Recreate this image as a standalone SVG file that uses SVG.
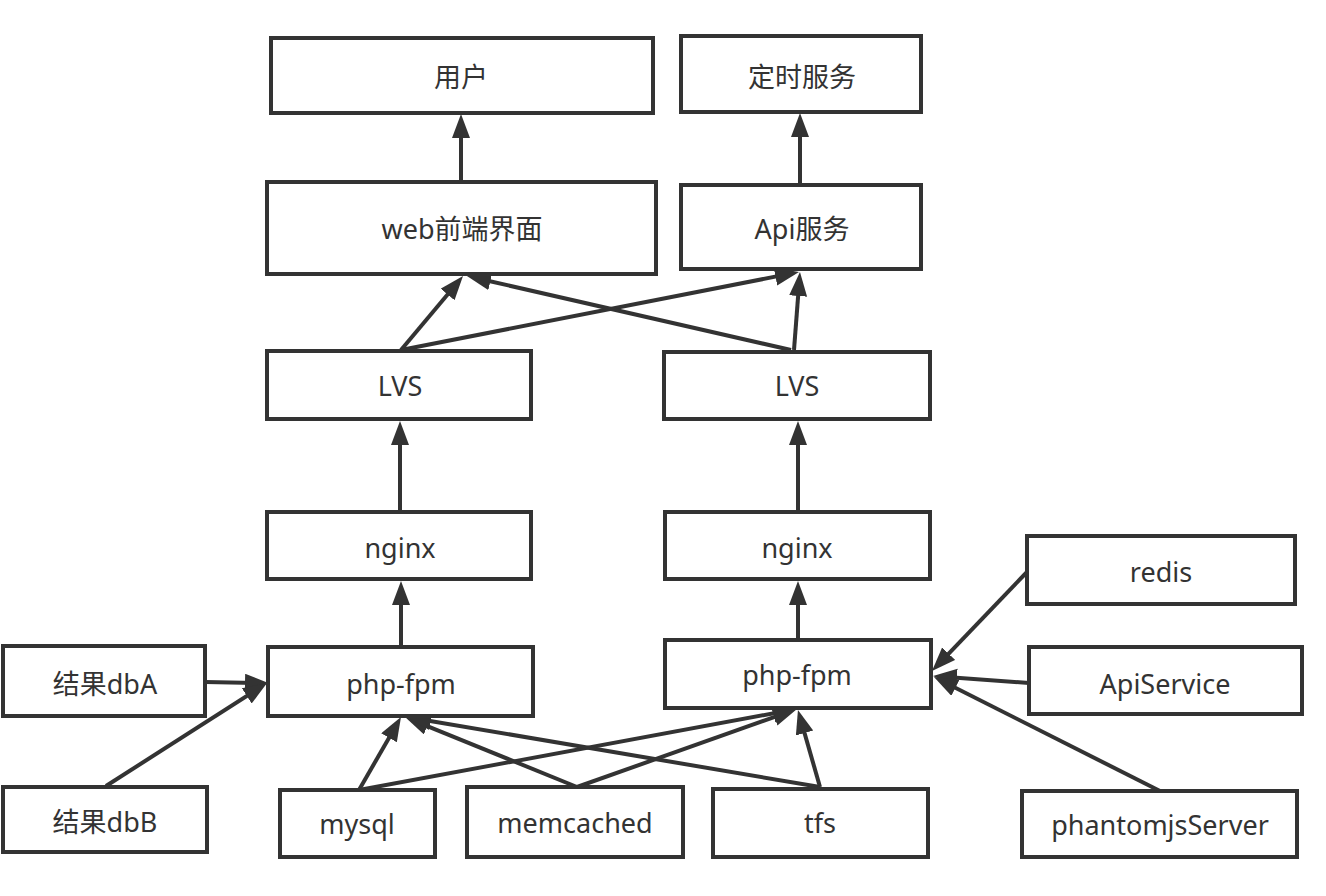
<svg xmlns="http://www.w3.org/2000/svg" width="1326" height="896" viewBox="0 0 1326 896">
<style>
.box{fill:#fff;stroke:#333;stroke-width:4}
.lbl{font-family:"Noto Sans","Noto Sans CJK SC",sans-serif;font-size:27px;fill:#333;text-anchor:middle;dominant-baseline:central}
.c{stroke:#333;stroke-width:4;fill:none;marker-end:url(#ah)}
</style>
<defs>
<marker id="ah" markerUnits="userSpaceOnUse" markerWidth="26" markerHeight="20" refX="14" refY="9" orient="auto" viewBox="0 0 26 20">
<path d="M0,0 L24,9 L0,18 z" fill="#333"/>
</marker>
</defs>
<rect width="1326" height="896" fill="#fff"/>
<g id="connectors">
<line class="c" x1="461" y1="182" x2="461" y2="124"/>
<line class="c" x1="800" y1="185" x2="800" y2="123"/>
<line class="c" x1="401" y1="350" x2="456.6" y2="283.7"/>
<line class="c" x1="401" y1="350" x2="789.2" y2="273.9"/>
<line class="c" x1="791" y1="350" x2="476.7" y2="278.2"/>
<line class="c" x1="794" y1="350" x2="799.2" y2="282"/>
<line class="c" x1="400" y1="512" x2="400" y2="431"/>
<line class="c" x1="798" y1="512" x2="798" y2="431"/>
<line class="c" x1="401" y1="647" x2="401" y2="591"/>
<line class="c" x1="798" y1="640" x2="798" y2="591"/>
<line class="c" x1="205" y1="682" x2="259" y2="683"/>
<line class="c" x1="106" y1="786" x2="258.6" y2="688.4"/>
<line class="c" x1="359" y1="790" x2="396" y2="725.7"/>
<line class="c" x1="359" y1="790" x2="787.2" y2="710.8"/>
<line class="c" x1="577" y1="787" x2="414.3" y2="720.8"/>
<line class="c" x1="577" y1="787" x2="787.6" y2="712.3"/>
<line class="c" x1="820" y1="787" x2="416.9" y2="718.7"/>
<line class="c" x1="820" y1="787" x2="800.7" y2="719.6"/>
<line class="c" x1="1027" y1="572" x2="938.9" y2="663.8"/>
<line class="c" x1="1029" y1="683" x2="943" y2="676.7"/>
<line class="c" x1="1160" y1="791" x2="942.9" y2="681.5"/>
</g>
<g id="n-user"><rect class="box" x="271" y="38" width="382" height="75"/><text class="lbl" x="461" y="76">用户</text></g>
<g id="n-cron"><rect class="box" x="681" y="36" width="240" height="76"/><text class="lbl" x="802" y="76">定时服务</text></g>
<g id="n-web"><rect class="box" x="267" y="182" width="389" height="92"/><text class="lbl" x="462" y="228">web前端界面</text></g>
<g id="n-api"><rect class="box" x="681" y="185" width="240" height="84"/><text class="lbl" x="802" y="228">Api服务</text></g>
<g id="n-lvs1"><rect class="box" x="267" y="351" width="264" height="68"/><text class="lbl" x="400" y="385">LVS</text></g>
<g id="n-lvs2"><rect class="box" x="664" y="352" width="266" height="67"/><text class="lbl" x="797" y="385">LVS</text></g>
<g id="n-nginx1"><rect class="box" x="267" y="512" width="264" height="67"/><text class="lbl" x="400" y="547">nginx</text></g>
<g id="n-nginx2"><rect class="box" x="665" y="512" width="265" height="67"/><text class="lbl" x="797" y="547">nginx</text></g>
<g id="n-redis"><rect class="box" x="1027" y="536" width="268" height="68"/><text class="lbl" x="1161" y="571">redis</text></g>
<g id="n-php1"><rect class="box" x="268" y="647" width="265" height="69"/><text class="lbl" x="401" y="683">php-fpm</text></g>
<g id="n-php2"><rect class="box" x="665" y="640" width="266" height="68"/><text class="lbl" x="797" y="674">php-fpm</text></g>
<g id="n-apiservice"><rect class="box" x="1029" y="647" width="273" height="67"/><text class="lbl" x="1165" y="683">ApiService</text></g>
<g id="n-dba"><rect class="box" x="3" y="646" width="202" height="70"/><text class="lbl" x="105" y="683">结果dbA</text></g>
<g id="n-dbb"><rect class="box" x="3" y="787" width="204" height="65"/><text class="lbl" x="105" y="821">结果dbB</text></g>
<g id="n-mysql"><rect class="box" x="280" y="790" width="155" height="67"/><text class="lbl" x="357" y="823">mysql</text></g>
<g id="n-memcached"><rect class="box" x="467" y="787" width="216" height="70"/><text class="lbl" x="575" y="822">memcached</text></g>
<g id="n-tfs"><rect class="box" x="713" y="789" width="215" height="68"/><text class="lbl" x="820" y="822">tfs</text></g>
<g id="n-phantom"><rect class="box" x="1022" y="791" width="275" height="66"/><text class="lbl" x="1160" y="824">phantomjsServer</text></g>
</svg>
